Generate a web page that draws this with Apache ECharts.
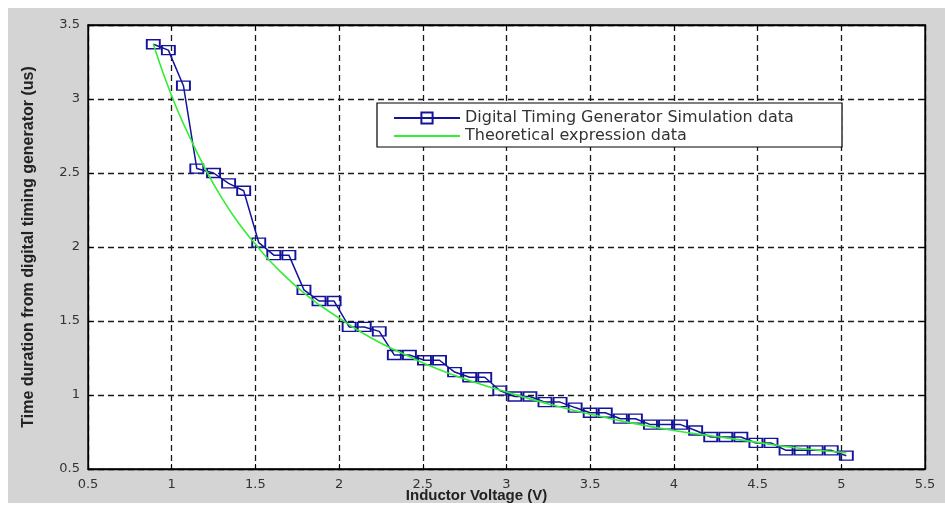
<!DOCTYPE html>
<html>
<head>
<meta charset="utf-8">
<script src="https://cdn.jsdelivr.net/npm/echarts@6/dist/echarts.min.js"></script>
<style>
html,body{margin:0;padding:0;background:#fff;}
#c{width:945px;height:506px;}
</style>
</head>
<body>
<div id="c"></div>
<script>
// Digital Timing Generator simulation data (x: Inductor Voltage V, y: time us)
const simX = [0.89, 0.98, 1.07, 1.15, 1.25, 1.34, 1.43, 1.52, 1.61, 1.70,
  1.79, 1.88, 1.97, 2.06, 2.15, 2.24, 2.33, 2.42, 2.51, 2.60,
  2.69, 2.78, 2.87, 2.96, 3.05, 3.14, 3.23, 3.32, 3.41, 3.50,
  3.59, 3.68, 3.77, 3.86, 3.95, 4.04, 4.13, 4.22, 4.31, 4.40,
  4.49, 4.58, 4.67, 4.76, 4.85, 4.94, 5.03];
const simY = [3.37, 3.33, 3.09, 2.53, 2.50, 2.43, 2.38, 2.03, 1.945, 1.945,
  1.71, 1.635, 1.635, 1.46, 1.46, 1.43, 1.27, 1.27, 1.235, 1.235,
  1.155, 1.12, 1.12, 1.03, 0.99, 0.99, 0.952, 0.952, 0.915, 0.88,
  0.88, 0.84, 0.84, 0.80, 0.80, 0.80, 0.76, 0.716, 0.716, 0.716,
  0.676, 0.676, 0.626, 0.626, 0.626, 0.626, 0.59];
// Theoretical expression data
const theoX = [0.89, 1.0, 1.1, 1.2, 1.3, 1.4, 1.5, 1.6, 1.8, 2.0, 2.2, 2.4,
  2.6, 2.8, 3.0, 3.25, 3.5, 3.75, 4.0, 4.25, 4.5, 4.75, 5.03];
const theoY = [3.37, 3.02, 2.76, 2.53, 2.33, 2.16, 2.02, 1.89, 1.68, 1.52, 1.38, 1.27,
  1.17, 1.09, 1.02, 0.94, 0.87, 0.81, 0.76, 0.72, 0.68, 0.64, 0.61];
const seriesNames = ['Digital Timing Generator Simulation data', 'Theoretical expression data'];
const xTitle = 'Inductor Voltage (V)';
const yTitle = 'Time duration from digital timing generator (us)';

const chart = echarts.init(document.getElementById('c'));
const gridLine = {show: true, lineStyle: {color: '#1a1a1a', type: [6, 4], width: 1.3}};
const labelStyle = {color: '#333', fontFamily: 'DejaVu Sans', fontSize: 13};
chart.setOption({
  animation: false,
  backgroundColor: '#fff',
  graphic: [
    {type: 'rect', z: -10, shape: {x: 8, y: 8, width: 937, height: 495}, style: {fill: '#d4d4d4'}},
    {type: 'rect', z: 5, shape: {x: 377, y: 103, width: 465, height: 44}, style: {fill: '#fff', stroke: '#000', lineWidth: 1.2}}
  ],
  grid: {left: 88, top: 25, width: 837, height: 444, show: true, backgroundColor: '#fff', borderColor: '#000', borderWidth: 1.3, containLabel: false, outerBoundsMode: 'none'},
  legend: {
    orient: 'vertical', left: 388, top: 105, z: 10, itemGap: 2,
    itemWidth: 66, itemHeight: 14,
    textStyle: {color: '#333', fontFamily: 'DejaVu Sans', fontSize: 16},
    data: [
      {name: seriesNames[0]},
      {name: seriesNames[1], itemStyle: {color: 'rgba(0,0,0,0)', borderWidth: 0}}
    ]
  },
  xAxis: [{
    type: 'value', min: 0.5, max: 5.5, interval: 0.5,
    axisLine: {show: true, lineStyle: {color: '#000', width: 1.3}},
    axisTick: {show: true, inside: true, length: 5, lineStyle: {color: '#000'}},
    axisLabel: Object.assign({margin: 9}, labelStyle),
    splitLine: gridLine,
    name: xTitle, nameLocation: 'middle', nameGap: 19, nameMoveOverlap: false,
    nameTextStyle: {fontFamily: 'Liberation Sans', fontWeight: 'bold', fontSize: 15, color: '#222', padding: [0, 60, 0, 0]}
  }, {
    type: 'value', position: 'top', min: 0.5, max: 5.5, interval: 0.5,
    axisLine: {show: true, lineStyle: {color: '#000', width: 1.3}},
    axisTick: {show: true, inside: true, length: 5, lineStyle: {color: '#000'}},
    axisLabel: {show: false}, splitLine: {show: false}
  }],
  yAxis: [{
    type: 'value', min: 0.5, max: 3.5, interval: 0.5,
    axisLine: {show: true, lineStyle: {color: '#000', width: 1.3}},
    axisTick: {show: true, inside: true, length: 5, lineStyle: {color: '#000'}},
    axisLabel: Object.assign({margin: 8}, labelStyle),
    splitLine: gridLine,
    name: yTitle, nameLocation: 'middle', nameGap: 51, nameRotate: 90, nameMoveOverlap: false,
    nameTextStyle: {fontFamily: 'Liberation Sans', fontWeight: 'bold', fontSize: 16, color: '#222'}
  }, {
    type: 'value', position: 'right', min: 0.5, max: 3.5, interval: 0.5,
    axisLine: {show: true, lineStyle: {color: '#000', width: 1.3}},
    axisTick: {show: true, inside: true, length: 5, lineStyle: {color: '#000'}},
    axisLabel: {show: false}, splitLine: {show: false}
  }],
  series: [{
    name: seriesNames[0], type: 'line',
    data: simX.map((x, i) => [x, simY[i]]),
    symbol: 'rect', symbolSize: [13, 9], showAllSymbol: true,
    lineStyle: {color: '#14149a', width: 1.5},
    itemStyle: {color: 'rgba(255,255,255,0)', borderColor: '#14149a', borderWidth: 1.6},
    z: 3
  }, {
    name: seriesNames[1], type: 'line',
    data: theoX.map((x, i) => [x, theoY[i]]),
    smooth: true, symbol: 'none',
    lineStyle: {color: '#33ee33', width: 1.6},
    itemStyle: {color: '#33ee33'},
    z: 4
  }]
});
</script>
</body>
</html>
